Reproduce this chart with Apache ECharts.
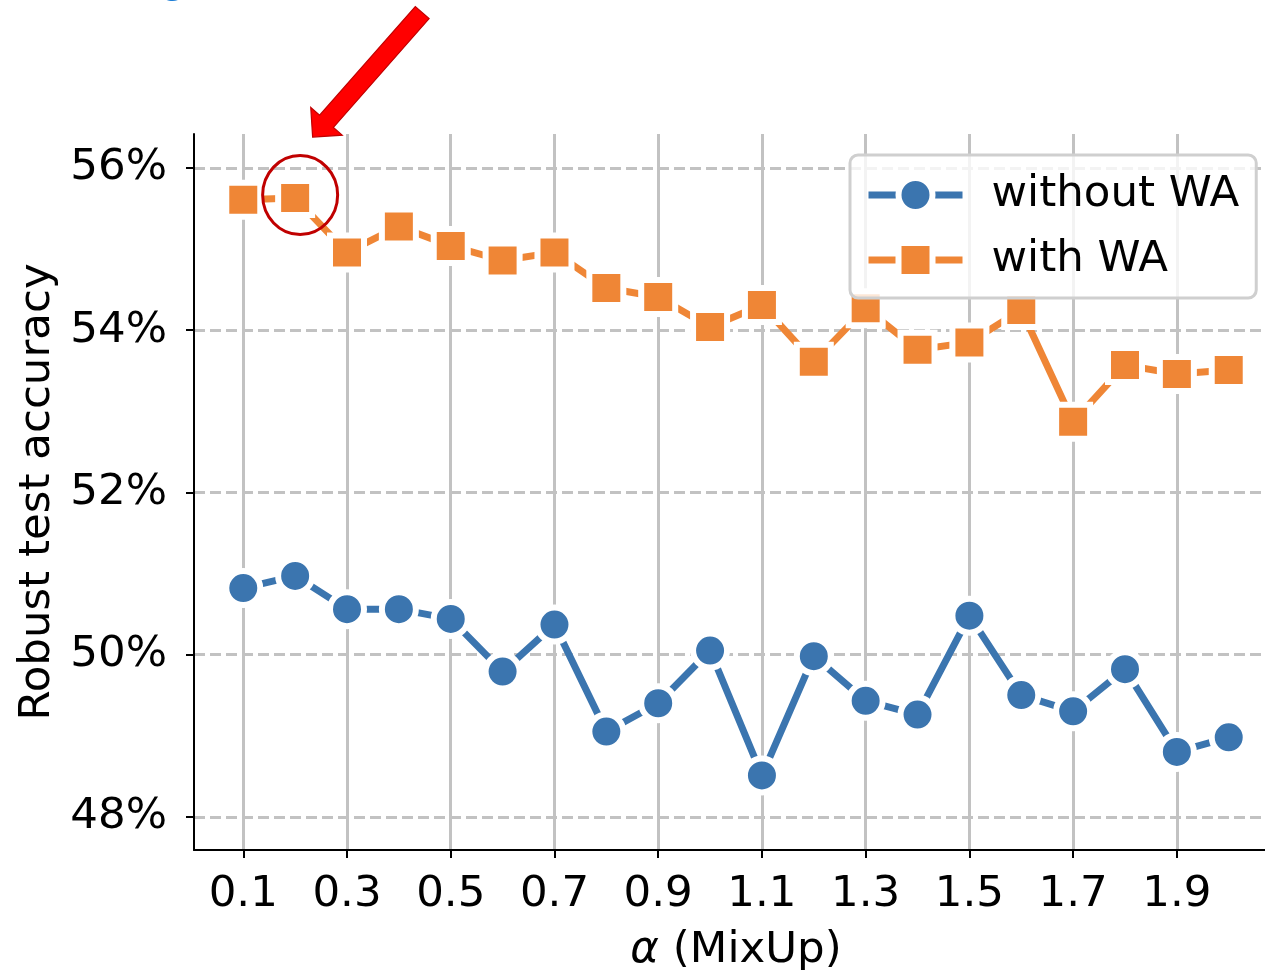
<!DOCTYPE html>
<html>
<head>
<meta charset="utf-8">
<script src="https://cdn.jsdelivr.net/npm/echarts@6/dist/echarts.min.js"></script>
<style>
html,body{margin:0;padding:0;background:#fff;}
#chart{width:1265px;height:970px;}
</style>
</head>
<body>
<div id="chart"></div>
<script>
// MixUp alpha values
const alphas = [0.1, 0.2, 0.3, 0.4, 0.5, 0.6, 0.7, 0.8, 0.9, 1.0,
                1.1, 1.2, 1.3, 1.4, 1.5, 1.6, 1.7, 1.8, 1.9, 2.0];
// Robust test accuracy (%)
const withoutWA = [50.82, 50.97, 50.56, 50.56, 50.44, 49.79, 50.37, 49.05, 49.40, 50.05,
                   48.51, 49.98, 49.43, 49.26, 50.48, 49.50, 49.30, 49.82, 48.80, 48.98];
const withWA = [55.61, 55.63, 54.96, 55.28, 55.04, 54.86, 54.96, 54.52, 54.41, 54.04,
                54.31, 53.61, 54.27, 53.76, 53.85, 54.25, 52.87, 53.57, 53.46, 53.51];
const xTicks = [0.1, 0.3, 0.5, 0.7, 0.9, 1.1, 1.3, 1.5, 1.7, 1.9];
const yTicks = [48, 50, 52, 54, 56];
const seriesNames = ['without WA', 'with WA'];
const highlightIndex = 1; // the point marked with a circle and an arrow

const FONT = 'DejaVu Sans';
const FS = 43.5;
const BLUE = '#3b75af';
const ORANGE = '#ef8636';
const GRID_GRAY = '#c2c2c2';

const chart = echarts.init(document.getElementById('chart'), null, {renderer: 'canvas'});

// Solid line; markers carry a wide white edge that opens a gap in the line
function lineSeries(name, values, color, symbol) {
  return {
    name: name,
    type: 'line',
    data: alphas.map((a, i) => [a, values[i]]),
    symbol: symbol,
    symbolSize: 34,
    showAllSymbol: true,
    clip: false,
    lineStyle: {color: color, width: 7, type: 'solid'},
    itemStyle: {color: color, borderColor: '#ffffff', borderWidth: 6},
    emphasis: {disabled: true},
    z: 3
  };
}

chart.setOption({
  animation: false,
  backgroundColor: '#ffffff',
  grid: {left: 194, top: 134, right: -13, bottom: 120, containLabel: false,
         outerBoundsMode: 'none'},
  xAxis: {
    type: 'value',
    min: 0.005,
    max: 2.095,
    name: '{a|α} (MixUp)',
    nameLocation: 'middle',
    nameGap: 79,
    nameTextStyle: {
      fontFamily: FONT, fontSize: FS, color: '#000',
      rich: {a: {fontFamily: FONT, fontSize: FS, fontStyle: 'italic', color: '#000'}}
    },
    axisLine: {show: true, onZero: false, lineStyle: {color: '#000', width: 2}},
    axisTick: {show: true, inside: false, length: 8, customValues: xTicks,
               lineStyle: {color: '#000', width: 2}},
    axisLabel: {customValues: xTicks, formatter: v => v.toFixed(1), margin: 23,
                fontFamily: FONT, fontSize: FS, color: '#000'},
    splitLine: {show: true, lineStyle: {color: GRID_GRAY, width: 3, type: 'solid'}}
  },
  yAxis: {
    type: 'value',
    min: 47.59,
    max: 56.42,
    name: 'Robust test accuracy',
    nameLocation: 'middle',
    nameRotate: 90,
    nameGap: 131,
    nameTextStyle: {fontFamily: FONT, fontSize: FS, color: '#000'},
    axisLine: {show: true, onZero: false, lineStyle: {color: '#000', width: 2}},
    axisTick: {show: true, inside: false, length: 8, customValues: yTicks,
               lineStyle: {color: '#000', width: 2}},
    axisLabel: {customValues: yTicks, formatter: v => v + '%', margin: 27,
                fontFamily: FONT, fontSize: FS, color: '#000'},
    splitLine: {show: true, lineStyle: {color: GRID_GRAY, width: 3, type: [11, 5]}}
  },
  legend: {
    data: seriesNames,
    orient: 'vertical',
    left: 850,
    top: 155,
    itemWidth: 94,
    itemHeight: 42.5,
    itemGap: 21,
    padding: [18, 17, 16, 15],
    backgroundColor: 'rgba(255,255,255,0.8)',
    borderColor: '#cfcfcf',
    borderWidth: 3,
    borderRadius: 8,
    z: 10,
    lineStyle: {width: 7},
    itemStyle: {borderColor: '#ffffff', borderWidth: 6},
    textStyle: {fontFamily: FONT, fontSize: FS, color: '#000', lineHeight: 43,
                padding: [0, 0, 0, 24]}
  },
  series: [
    lineSeries(seriesNames[0], withoutWA, BLUE, 'circle'),
    lineSeries(seriesNames[1], withWA, ORANGE, 'rect')
  ]
});

// Annotation: circle around the highlighted point, arrow pointing at it
const p = chart.convertToPixel({gridIndex: 0}, [alphas[highlightIndex], withWA[highlightIndex]]);
const tip = [p[0] + 17.5, p[1] - 61];
const u = [0.66, -0.75];       // from tip toward the tail
const n = [0.75, 0.66];        // perpendicular
const headLen = 21, headHalf = 21, shaftHalf = 9.2, tailLen = 166;
function pt(a, b) { return [tip[0] + a * u[0] + b * n[0], tip[1] + a * u[1] + b * n[1]]; }
const arrowPts = [
  tip,
  pt(headLen, headHalf),
  pt(headLen, shaftHalf),
  pt(tailLen, shaftHalf),
  pt(tailLen, -shaftHalf),
  pt(headLen, -shaftHalf),
  pt(headLen, -headHalf)
];

chart.setOption({
  graphic: [
    {
      type: 'ellipse',
      z: 20,
      shape: {cx: p[0] + 5, cy: p[1] - 3, rx: 37.5, ry: 39.5},
      style: {fill: 'none', stroke: '#c00000', lineWidth: 3}
    },
    {
      type: 'polygon',
      z: 20,
      shape: {points: arrowPts},
      style: {fill: '#ff0000', stroke: '#c00000', lineWidth: 1.2}
    },
    {
      // tail of a heading that runs off the top edge
      type: 'text',
      z: 20,
      left: 161,
      top: -38,
      style: {text: 'g', fontFamily: FONT, fontSize: 40, fill: '#1f7fd6'}
    }
  ]
});
</script>
</body>
</html>
